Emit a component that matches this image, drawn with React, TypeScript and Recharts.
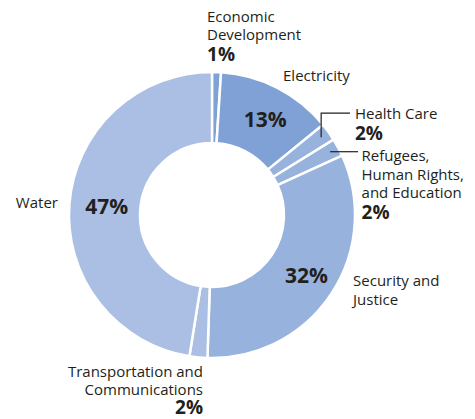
import { PieChart, Pie, Cell } from "recharts"

const sectors = [
  "Economic Development",
  "Electricity",
  "Health Care",
  "Refugees, Human Rights, and Education",
  "Security and Justice",
  "Transportation and Communications",
  "Water",
]
const shares = [1, 13, 2, 2, 32, 2, 47]
const labelLines = [
  ["Economic", "Development"],
  ["Electricity"],
  ["Health Care"],
  ["Refugees,", "Human Rights,", "and Education"],
  ["Security and", "Justice"],
  ["Transportation and", "Communications"],
  ["Water"],
]
// percent shown inside the ring for the big slices
const insideShare = [false, true, false, false, true, false, true]

const data = sectors.map((name, i) => ({ name, value: shares[i] }))

const COLORS = ["#7fa1d5", "#7fa1d5", "#97b2dd", "#97b2dd", "#97b2dd", "#aabfe3", "#aabfe3"]
const INK = "#231f20"
const FONT = "'Open Sans', sans-serif"
const RAD = Math.PI / 180

// label block placement relative to the slice's outer edge point
type Place = { dx: number; dy: number; anchor: "start" | "end"; leader?: "elbow" | "flat"; lx?: number; ly?: number; pdx?: number; pgap?: number }
const PLACE: Place[] = [
  { dx: -9.5, dy: -50, anchor: "start" },
  { dx: 5.5, dy: -7, anchor: "start", pdx: 4 },
  { dx: 26.5, dy: -13, anchor: "start", leader: "elbow", lx: 21.5, ly: -19 },
  { dx: 23.5, dy: 14, anchor: "start", leader: "flat", lx: 20, ly: 4.8 },
  { dx: 22, dy: -8, anchor: "start", pdx: 5 },
  { dx: 4.6, dy: 19.6, anchor: "end", pgap: 18.5 },
  { dx: -11.5, dy: 4, anchor: "end", pdx: 2 },
]

function renderLabel(props: any) {
  const { cx, cy, midAngle, innerRadius, outerRadius, index, value } = props
  const cos = Math.cos(-midAngle * RAD)
  const sin = Math.sin(-midAngle * RAD)
  const ox = cx + outerRadius * cos
  const oy = cy + outerRadius * sin
  const p = PLACE[index]
  const lines = labelLines[index]
  const tx = ox + p.dx
  const ty = oy + p.dy
  const pct = `${value}%`
  const els: any[] = []

  if (insideShare[index]) {
    const mr = (innerRadius + outerRadius) / 2
    els.push(
      <text key="in" x={cx + mr * cos + (p.pdx ?? 0)} y={cy + mr * sin} textAnchor="middle" dominantBaseline="central"
        fontFamily={FONT} fontWeight={700} fontSize={21} fill={INK}>{pct}</text>
    )
  }

  if (p.leader) {
    const sx = cx + (outerRadius - 9) * cos
    const sy = cy + (outerRadius - 9) * sin
    const d = p.leader === "elbow"
      ? `M${sx},${sy} L${sx},${oy + p.ly!} L${ox + p.lx!},${oy + p.ly!}`
      : `M${sx},${sy} L${ox + p.lx!},${sy}`
    els.push(<path key="ld" d={d} stroke={INK} strokeWidth={1.2} fill="none" />)
  }

  lines.forEach((l, j) => {
    els.push(
      <text key={`l${j}`} x={tx} y={ty + j * 18.3} textAnchor={p.anchor} fontFamily={FONT} fontSize={15} fill={INK}>{l}</text>
    )
  })
  if (!insideShare[index]) {
    els.push(
      <text key="pc" x={tx} y={ty + (lines.length - 1) * 18.3 + (p.pgap ?? 20.5)} textAnchor={p.anchor}
        fontFamily={FONT} fontWeight={700} fontSize={19} fill={INK}>{pct}</text>
    )
  }
  return <g>{els}</g>
}

export default function App() {
  return (
    <div style={{ position: "fixed", left: 0, top: 0, background: "#fff" }}>
      <PieChart width={475} height={419} margin={{ top: 0, right: 0, bottom: 0, left: 0 }}>
        <Pie
          data={data}
          dataKey="value"
          nameKey="name"
          cx={212}
          cy={215}
          innerRadius={72}
          outerRadius={143}
          startAngle={90}
          endAngle={-270}
          stroke="#ffffff"
          strokeWidth={2.5}
          label={renderLabel}
          labelLine={false}
          isAnimationActive={false}
        >
          {data.map((_, i) => (
            <Cell key={i} fill={COLORS[i]} />
          ))}
        </Pie>
      </PieChart>
    </div>
  )
}
